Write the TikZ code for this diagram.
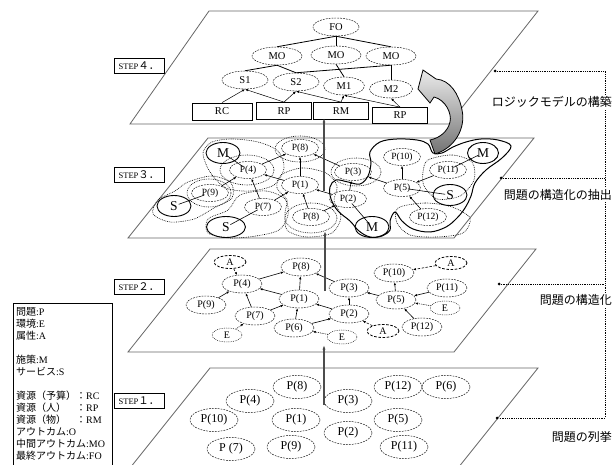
\documentclass[tikz,border=0pt]{standalone}
\usepackage{fontspec}
\setmainfont{Liberation Serif}
\newfontfamily\jp{Noto Sans CJK JP}
\usetikzlibrary{arrows.meta,positioning,calc,shapes.geometric}
\newcommand\steplabel[1]{{\fontsize{8.5}{10}\selectfont STEP}{\jp\fontsize{10.5}{11}\selectfont #1}}
\tikzset{
  plane/.style={draw=black!60, line width=0.8pt},
  stepbox/.style={draw=black, line width=0.6pt, minimum width=50pt, minimum height=15pt, inner sep=1pt},
  pone/.style={ellipse, draw, dash pattern=on 1.8pt off 1.1pt, line width=0.45pt, minimum width=48pt, minimum height=23pt, inner sep=0pt, font=\fontsize{12}{13}\selectfont},
  ptwo/.style={pone, minimum width=40pt, minimum height=18pt, font=\fontsize{10}{11}\selectfont},
  pthree/.style={pone, minimum width=37pt, minimum height=17pt, font=\fontsize{9.5}{10}\selectfont},
  attr/.style={ptwo, dash pattern=on 2.6pt off 1.6pt, line width=0.8pt, minimum width=32pt, minimum height=13pt},
  env/.style={ptwo, dash pattern=on 0.8pt off 1pt, minimum width=30pt, minimum height=14pt},
  ms/.style={ellipse, draw, line width=0.9pt, minimum width=34pt, minimum height=21pt, inner sep=0pt, font=\fontsize{13.5}{14}\selectfont},
  lm/.style={pone, minimum width=46pt, minimum height=18pt, font=\fontsize{10.5}{11}\selectfont},
  res/.style={draw, line width=0.8pt, minimum width=55pt, minimum height=17pt, inner sep=0pt, font=\fontsize{10.5}{11}\selectfont},
  arrow/.style={-{Latex[length=3pt,width=2.4pt]}, line width=0.6pt},
  dasharrow/.style={arrow, dash pattern=on 2.5pt off 1.5pt},
  dotarrow/.style={arrow, dash pattern=on 0.8pt off 1pt},
  tie/.style={line width=0.6pt, shorten <=5pt, shorten >=6pt},
  tree/.style={line width=0.8pt},
  uparrow/.style={-{Latex[length=4.5pt,width=3pt]}, line width=1.2pt, draw=black!70},
  blob/.style={dash pattern=on 0.8pt off 1pt, line width=0.6pt},
  wall/.style={line width=1pt},
  dot/.style={circle, fill=black, minimum size=3pt, inner sep=0pt},
  bracket/.style={dash pattern=on 0.8pt off 1pt, line width=0.7pt},
  stage/.style={fill=white, inner sep=1pt, font=\jp\fontsize{12}{13}\selectfont}
}
\begin{document}
\begin{tikzpicture}[x=1pt, y=-1pt]
\useasboundingbox (0,0) rectangle (616,465);
\clip (0,0) rectangle (616,465);

\draw[plane] (209,11) -- (538,11) -- (449,124) -- (130,124) -- cycle;
\draw[plane] (208,138) -- (534,138) -- (454,238) -- (128,238) -- cycle;
\draw[plane] (210,249) -- (536,249) -- (454,352) -- (128,352) -- cycle;
\draw[plane] (210,368) -- (538,368) -- (450,478) -- (122,478) -- cycle;

\node[stepbox] (st4) at (139,66) {\steplabel{４．}};
\node[stepbox] (st3) at (139,175) {\steplabel{３．}};
\node[stepbox] (st2) at (139,287) {\steplabel{２．}};
\node[stepbox] (st1) at (139,401) {\steplabel{１．}};

% STEP 1
\node[pone] (a8) at (297,387) {P(8)};
\node[pone] (a4) at (250,401) {P(4)};
\node[pone] (a3) at (348,401) {P(3)};
\node[pone] (a12) at (398,387) {P(12)};
\node[pone] (a6) at (446,387) {P(6)};
\node[pone] (a10) at (214,420) {P(10)};
\node[pone] (a1) at (296,420) {P(1)};
\node[pone] (a5) at (398,420) {P(5)};
\node[pone] (a2) at (348,433) {P(2)};
\node[pone] (a7) at (231,449) {P (7)};
\node[pone] (a9) at (291,447) {P(9)};
\node[pone] (a11) at (404,447) {P(11)};

% STEP 2
\node[attr] (ba1) at (230,262) {A};
\node[ptwo] (b8) at (301,267) {P(8)};
\node[ptwo] (b4) at (242,284) {P(4)};
\node[ptwo] (b3) at (349,288) {P(3)};
\node[ptwo] (b10) at (394,273) {P(10)};
\node[attr] (ba2) at (451,263) {A};
\node[ptwo] (b11) at (447,288) {P(11)};
\node[ptwo] (b9) at (206,305) {P(9)};
\node[ptwo] (b1) at (299,299) {P(1)};
\node[ptwo] (b5) at (396,300) {P(5)};
\node[env] (be3) at (445,308) {E};
\node[ptwo] (b7) at (255,316) {P(7)};
\node[ptwo] (b2) at (349,314) {P(2)};
\node[ptwo] (b12) at (422,327) {P(12)};
\node[attr] (ba3) at (383,331) {A};
\node[env] (be1) at (227,335) {E};
\node[ptwo] (b6) at (294,328) {P(6)};
\node[env] (be2) at (342,337) {E};

\draw[arrow] (b4) -- (b8);
\draw[arrow] (b1) -- (b4);
\draw[arrow] (b1) -- (b8);
\draw[arrow] (b3) -- (b8);
\draw[arrow] (b9) -- (b4);
\draw[arrow] (b7) -- (b4);
\draw[arrow] (b7) -- (b1);
\draw[arrow] (b6) -- (b1);
\draw[arrow] (b2) -- (b1);
\draw[arrow] (b6) -- (b2);
\draw[arrow] (b2) -- (b3);
\draw[arrow] (b5) -- (b3);
\draw[arrow] (b5) -- (b10);
\draw[arrow] (b11) -- (b5);
\draw[arrow] (b12) -- (b5);
\draw[dasharrow] (ba1) -- (b4);
\draw[dasharrow] (ba2) -- (b10);
\draw[dasharrow] (ba3) -- (b2);
\draw[dotarrow] (be1) -- (b7);
\draw[dotarrow] (be2) -- (b6);
\draw[dotarrow] (be3) -- (b5);

% STEP 3
\draw[wall] plot[smooth cycle, tension=0.6] coordinates {(370,152) (380,142) (397,139) (417,140) (428,144) (433,153) (442,153) (453,147) (466,142) (481,139) (498,140) (511,146) (502,158) (486,170) (475,183) (471,196) (465,208) (457,218) (446,227) (430,232) (413,229) (402,221) (395,212) (390,221) (390,230) (382,236) (370,237) (359,231) (350,221) (338,211) (331,199) (330,187) (336,180) (348,182) (360,184) (368,176) (371,163)};
\draw[blob] plot[smooth cycle] coordinates {(203,153) (212,142) (232,139) (258,142) (278,151) (284,168) (274,185) (250,191) (226,188) (210,172)};
\draw[blob] plot[smooth cycle] coordinates {(188,182) (212,176) (231,183) (232,198) (214,208) (194,219) (170,222) (153,214) (158,200) (175,191)};
\draw[blob] plot[smooth cycle] coordinates {(240,195) (266,191) (285,199) (288,215) (279,230) (256,236) (230,238) (208,233) (208,219) (228,210)};
\draw[blob] plot[smooth cycle] coordinates {(281,175) (302,168) (326,173) (337,186) (334,201) (341,217) (332,233) (306,237) (287,230) (285,213) (287,200) (277,188)};
\draw[blob] plot[smooth cycle] coordinates {(428,160) (452,155) (472,162) (474,180) (460,196) (437,199) (424,186) (423,172)};
\draw[blob] plot[smooth cycle] coordinates {(398,208) (425,203) (452,207) (470,218) (463,233) (436,237) (410,235) (397,223)};
\draw[blob] (300,149) ellipse (25 and 13);
\draw[blob] (247,170) ellipse (27 and 15);
\draw[blob] (209,193) ellipse (22 and 14);
\draw[blob] (311,218) ellipse (26 and 15);
\draw[blob] (356,172) ellipse (25 and 14);

\node[ms] (cm1) at (223,153) {M};
\node[pthree] (c8t) at (300,148) {P(8)};
\node[pthree] (c4) at (248,170) {P(4)};
\node[pthree] (c3) at (353,172) {P(3)};
\node[pthree] (c10) at (402,157) {P(10)};
\node[ms, minimum width=31pt] (cm3) at (483,153) {M};
\node[pthree] (c11) at (448,170) {P(11)};
\node[pthree] (c9) at (210,193) {P(9)};
\node[pthree] (c1) at (300,185) {P(1)};
\node[pthree] (c5) at (402,188) {P(5)};
\node[ms] (cs3) at (450,195) {S};
\node[pthree] (c2) at (348,199) {P(2)};
\node[pthree] (c7) at (263,207) {P(7)};
\node[pthree] (c12) at (428,217) {P(12)};
\node[ms] (cs1) at (174,206) {S};
\node[ms, minimum width=39pt] (cs2) at (226,227) {S};
\node[pthree] (c8b) at (311,217) {P(8)};
\node[ms] (cm2) at (372,227) {M};

\draw[arrow] (c4) -- (c8t);
\draw[arrow] (c1) -- (c4);
\draw[arrow] (c1) -- (c8t);
\draw[arrow] (c3) -- (c8t);
\draw[arrow] (c9) -- (c4);
\draw[arrow] (c7) -- (c4);
\draw[arrow] (c7) -- (c1);
\draw[arrow] (c8b) -- (c1);
\draw[arrow] (c2) -- (c1);
\draw[arrow] (c8b) -- (c2);
\draw[arrow] (c2) -- (c3);
\draw[arrow] (c5) -- (c3);
\draw[arrow] (c5) -- (c10);
\draw[arrow] (c11) -- (c5);
\draw[arrow] (c12) -- (c5);
\draw[tie] (cm1.center) -- (c4.center);
\draw[tie] (cs1.center) -- (c9.center);
\draw[tie] (cs2.center) -- (c7.center);
\draw[tie] (cm2.center) -- (c2.center);
\draw[tie] (cm3.center) -- (c11.center);
\draw[tie] (cs3.center) -- (c5.center);

% STEP 4
\node[lm] (fo) at (336,27) {FO};
\node[lm, minimum width=50pt] (mo1) at (277,56) {MO};
\node[lm, minimum width=50pt] (mo2) at (336,55) {MO};
\node[lm, minimum width=50pt] (mo3) at (391,56) {MO};
\node[lm] (s1) at (245,80) {S1};
\node[lm] (s2) at (296,82) {S2};
\node[lm, minimum width=41pt] (m1) at (344,86) {M1};
\node[lm, minimum width=43pt] (m2) at (391,89) {M2};
\node[res, minimum width=60pt] (rc) at (222,111.5) {RC};
\node[res] (rp) at (284,111) {RP};
\node[res] (rm) at (341,111) {RM};
\node[res, minimum height=16pt] (rp2) at (400,115.5) {RP};

\draw[tree] (fo.south) -- (mo1.north);
\draw[tree] (fo.south) -- (mo2.north);
\draw[tree] (fo.south) -- (mo3.north);
\draw[tree] (mo1.south) -- (s1.north);
\draw[tree] (mo1.south) -- (s2.north);
\draw[tree] (mo2.south) -- (m1.north);
\draw[tree] (mo3.south) -- (s2.north);
\draw[tree] (mo3.south) -- (m2.north);
\draw[arrow, line width=0.5pt] (rc.north) -- (s1.south);
\draw[arrow, line width=0.5pt] (rp.north) -- (s1.south);
\draw[arrow, line width=0.5pt] (rp.north) -- (s2.south);
\draw[arrow, line width=0.5pt] (rm.north) -- (s2.south);
\draw[arrow, line width=0.5pt] (rm.north) -- (m1.south);
\draw[arrow, line width=0.5pt] (rp2.north) -- (m1.south);
\draw[arrow, line width=0.5pt] (rp2.north) -- (m2.south);

% between steps
\coordinate (u1s) at (324,405);
\coordinate (u1e) at (324,345);
\coordinate (u2s) at (325,291);
\coordinate (u2e) at (325,231);
\coordinate (u3s) at (324,191);
\coordinate (u3e) at (324,118);
\draw[uparrow] (u1s) -- (u1e);
\draw[uparrow] (u2s) -- (u2e);
\draw[uparrow] (u3s) -- (u3e);

\draw[line width=0.8pt, top color=black!8, bottom color=black!55] (430,140) -- (435,154) .. controls (455,148) and (466,128) .. (462,110) .. controls (459,94) and (450,80) .. (436,79) -- (423,70) -- (418,89) -- (430,103) -- (434,97) .. controls (446,100) and (452,114) .. (450,122) .. controls (448,131) and (440,138) .. (430,140) -- cycle;

% right side
\node[dot] (d4) at (495,71) {};
\node[dot] (d3) at (501,178) {};
\node[dot] (d2) at (499,284) {};
\node[dot] (d1) at (497,418) {};
\draw[bracket] (d4) -- (605,71) -- (605,418) -- (d1);
\draw[bracket] (d3) -- (605,178);
\draw[bracket] (d2) -- (605,284);
\node[stage, anchor=east] (lab4) at (613,102) {ロジックモデルの構築};
\node[stage, anchor=east] (lab3) at (613,195) {問題の構造化の抽出};
\node[stage, anchor=east] (lab2) at (613,300) {問題の構造化};
\node[stage, anchor=east] (lab1) at (613,437) {問題の列挙};

% legend
\draw[line width=0.6pt] (13,303) rectangle (112,470);
\node[anchor=north west, align=left, inner sep=0pt, font=\fontsize{10}{12}\selectfont] (legend) at (16,307)
  {{\jp 問題}:P\\{\jp 環境}:E\\{\jp 属性}:A\\[12pt]{\jp 施策}:M\\{\jp サービス}:S\\[12pt]{\jp 資源（予算）：}RC\\{\jp 資源（人）　：}RP\\{\jp 資源（物）　：}RM\\{\jp アウトカム}:O\\{\jp 中間アウトカム}:MO\\{\jp 最終アウトカム}:FO};
\end{tikzpicture}
\end{document}
